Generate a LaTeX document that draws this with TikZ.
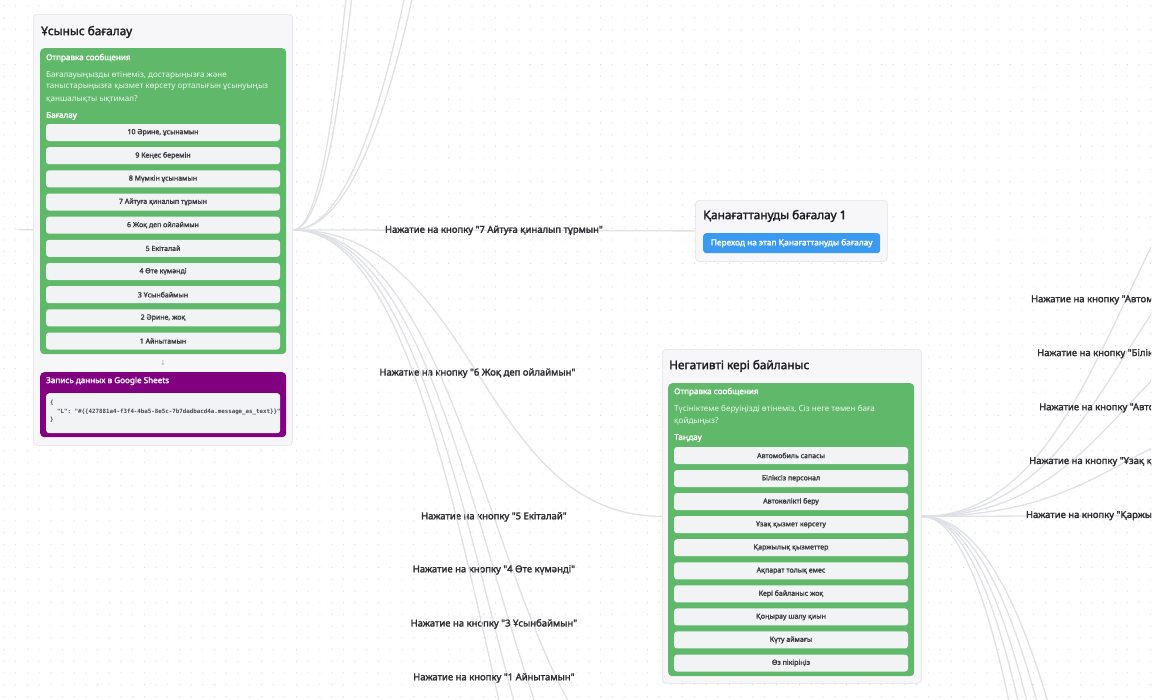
\documentclass[tikz,border=0pt]{standalone}
\usepackage{fontspec}
\setmainfont{Noto Sans}[Ligatures=TeXOff, BoldFont={Noto Sans}, BoldFeatures={FakeBold=2.2}]
\setmonofont{DejaVu Sans Mono}
\newfontfamily\symbolfont{DejaVu Sans}
\usetikzlibrary{calc}

\definecolor{canvasdot}{RGB}{208,210,216}
\definecolor{edgegray}{RGB}{224,225,230}
\definecolor{cardfill}{RGB}{247,247,249}
\definecolor{cardline}{RGB}{233,234,238}
\definecolor{msggreen}{RGB}{96,185,106}
\definecolor{btnfill}{RGB}{242,243,245}
\definecolor{btntext}{RGB}{60,62,68}
\definecolor{sheetpurple}{RGB}{128,0,128}
\definecolor{gotoblue}{RGB}{58,154,240}
\definecolor{titletext}{RGB}{30,30,34}
\definecolor{labeltext}{RGB}{45,45,50}
\definecolor{codetext}{RGB}{70,70,76}

\tikzset{
  card/.style={draw=cardline, fill=cardfill, rounded corners=4pt, line width=0.8pt,
    anchor=north west, inner sep=0pt},
  block/.style={rounded corners=4pt, anchor=north west, inner sep=0pt},
  cardtitle/.style={anchor=west, inner sep=0pt, font=\bfseries\fontsize{11.8}{13}\selectfont, text=titletext},
  blockhead/.style={anchor=west, inner sep=0pt, font=\bfseries\fontsize{8.1}{9}\selectfont, text=white},
  blocktext/.style={anchor=west, inner sep=0pt, font=\fontsize{8.1}{9}\selectfont, text=white!88!msggreen},
  choice/.style={fill=btnfill, rounded corners=3pt, minimum width=234pt, minimum height=17pt,
    inner sep=0pt, font=\bfseries\fontsize{7}{8}\selectfont, text=btntext},
  codeline/.style={anchor=west, inner sep=0pt, font=\ttfamily\bfseries\fontsize{5.8}{7}\selectfont, text=codetext},
  edge/.style={draw=edgegray, line width=1.3pt},
  edgelabel/.style={inner sep=0pt, font=\bfseries\fontsize{9.5}{11}\selectfont, text=labeltext},
  % bezier with horizontal tangents at both ends
  rf/.style={to path={let \p1=(\tikztostart), \p2=(\tikztotarget) in
     .. controls ({0.5*(\x1+\x2)},\y1) and ({0.5*(\x1+\x2)},\y2) .. (\tikztotarget) \tikztonodes}},
}

\begin{document}
\begin{tikzpicture}[x=1pt,y=-1pt]
\useasboundingbox (0,0) rectangle (1170,699);
\fill[white] (0,0) rectangle (1170,699);

% ---------- nodes ----------
\node[card, minimum width=259pt, minimum height=431pt] (rate) at (33,14) {};
\node[card, minimum width=192pt, minimum height=61pt] (sat) at (695,200) {};
\node[card, minimum width=259pt, minimum height=334pt] (neg) at (662,349) {};

% off-canvas targets
\coordinate (inlet) at (18,229.5);
\coordinate (up10) at (420,-450);
\coordinate (up9) at (440,-520);
\coordinate (up8) at (695,-1500);
\coordinate (up2) at (695,-1250);
\coordinate (t5) at (695,804);
\coordinate (t4) at (695,910);
\coordinate (t3) at (695,1018);
\coordinate (t1) at (695,1126);
\coordinate (n1) at (1330,83);
\coordinate (n2) at (1330,191);
\coordinate (n3) at (1330,299);
\coordinate (n4) at (1330,407);
\coordinate (n5) at (1330,515);
\coordinate (n6) at (1330,1600);
\coordinate (n7) at (1330,1850);
\coordinate (n8) at (1330,2150);
\coordinate (n9) at (1330,2500);
\coordinate (n10) at (1330,3000);

% ---------- canvas: dot grid, connectors, labels ----------
\begin{scope}
\clip (0,0) rectangle (1151,699);
\foreach \j in {0,...,59} {
  \fill[canvasdot] \foreach \i in {0,...,98} { (4+11.7*\i,6+11.7*\j) circle (0.55pt) };
}

\draw[edge] (inlet) -- (rate.west);
\draw[edge] (rate.east) to[rf] (up10);
\draw[edge] (rate.east) to[rf] (up9);
\draw[edge] (rate.east) to[rf] (up8);
\draw[edge] (rate.east) to[rf] (up2);
\draw[edge] (rate.east) to[rf] node[edgelabel, pos=0.5] {Нажатие на кнопку "7 Айтуға қиналып тұрмын"} (sat.west);
\draw[edge] (rate.east) to[rf] node[edgelabel, pos=0.5] {Нажатие на кнопку "6 Жоқ деп ойлаймын"} (neg.west);
\draw[edge] (rate.east) to[rf] node[edgelabel, pos=0.5] {Нажатие на кнопку "5 Екіталай"} (t5);
\draw[edge] (rate.east) to[rf] node[edgelabel, pos=0.5] {Нажатие на кнопку "4 Өте күмәнді"} (t4);
\draw[edge] (rate.east) to[rf] node[edgelabel, pos=0.5] {Нажатие на кнопку "3 Ұсынбаймын"} (t3);
\draw[edge] (rate.east) to[rf] node[edgelabel, pos=0.5] {Нажатие на кнопку "1 Айнытамын"} (t1);

\draw[edge] (neg.east) to[rf] node[edgelabel, pos=0.5] {Нажатие на кнопку "Автомобиль сапасы"} (n1);
\draw[edge] (neg.east) to[rf] node[edgelabel, pos=0.5] {Нажатие на кнопку "Біліксіз персонал"} (n2);
\draw[edge] (neg.east) to[rf] node[edgelabel, pos=0.5] {Нажатие на кнопку "Автокөлікті беру"} (n3);
\draw[edge] (neg.east) to[rf] node[edgelabel, pos=0.5] {Нажатие на кнопку "Ұзақ қызмет көрсету"} (n4);
\draw[edge] (neg.east) to[rf] node[edgelabel, pos=0.5] {Нажатие на кнопку "Қаржылық қызметтер"} (n5);
\foreach \tgt in {n6,n7,n8,n9,n10} \draw[edge] (neg.east) to[rf] (\tgt);
\end{scope}

% ---------- cards on top of the connectors ----------
\node[card, minimum width=259pt, minimum height=431pt] at (33,14) {};
\node[card, minimum width=192pt, minimum height=61pt] at (695,200) {};
\node[card, minimum width=259pt, minimum height=334pt] at (662,349) {};

% Ұсыныс бағалау
\node[cardtitle] (rate-title) at (41,32) {Ұсыныс бағалау};
\node[block, fill=msggreen, minimum width=246pt, minimum height=306pt] (rate-msg) at (40,48) {};
\node[blockhead] at (46,58) {Отправка сообщения};
\node[blocktext] at (46,75) {Бағалауыңызды өтінеміз, достарыңызға және};
\node[blocktext] at (46,87) {таныстарыңызға қызмет көрсету орталығын ұсынуыңыз};
\node[blocktext] at (46,99) {қаншалықты ықтимал?};
\node[blockhead] at (46,116) {Бағалау};
\foreach \t [count=\k from 0] in {{10 Әрине, ұсынамын},{9 Кеңес беремін},{8 Мүмкін ұсынамын},
    {7 Айтуға қиналып тұрмын},{6 Жоқ деп ойлаймын},{5 Екіталай},{4 Өте күмәнді},
    {3 Ұсынбаймын},{2 Әрине, жоқ},{1 Айнытамын}}
  \node[choice] (rate-b\k) at (163,132.5+23.17*\k) {\t};
\node[inner sep=0pt, text=black!35, font=\symbolfont\fontsize{7}{8}\selectfont] (rate-step) at (163,363) {↓};
\node[block, fill=sheetpurple, minimum width=246pt, minimum height=65pt] (rate-sheet) at (40,372) {};
\node[blockhead] at (46,381) {Запись данных в Google Sheets};
\node[block, fill=btnfill, rounded corners=3pt, minimum width=234pt, minimum height=40pt] (rate-code) at (46,393) {};
\node[codeline] at (50,403) {\{};
\node[codeline] at (50,411.5) {\ \ "L": "\#\{\{427881a4-f3f4-4ba5-8e5c-7b7dadbacd4a.message\_as\_text\}\}"};
\node[codeline] at (50,420) {\}};

% Қанағаттануды бағалау 1
\node[cardtitle] (sat-title) at (703,216) {Қанағаттануды бағалау 1};
\node[block, fill=gotoblue, rounded corners=3pt, minimum width=177pt, minimum height=20pt] (sat-go) at (703,233) {};
\node[inner sep=0pt, font=\bfseries\fontsize{8.3}{9}\selectfont, text=white] at (sat-go.center) {Переход на этап Қанағаттануды бағалау};

% Негативті кері байланыс
\node[cardtitle] (neg-title) at (669,366) {Негативті кері байланыс};
\node[block, fill=msggreen, minimum width=246pt, minimum height=293pt] (neg-msg) at (668,383) {};
\node[blockhead] at (674,392) {Отправка сообщения};
\node[blocktext] at (674,409) {Түсініктеме беруіңізді өтінеміз, Сіз неге төмен баға};
\node[blocktext] at (674,421) {қойдыңыз?};
\node[blockhead] at (674,438) {Таңдау};
\foreach \t [count=\k from 0] in {{Автомобиль сапасы},{Біліксіз персонал},{Автокөлікті беру},
    {Ұзақ қызмет көрсету},{Қаржылық қызметтер},{Ақпарат толық емес},{Кері байланыс жоқ},
    {Қоңырау шалу қиын},{Күту аймағы},{Өз пікіріңіз}}
  \node[choice] (neg-b\k) at (791,455.5+23.06*\k) {\t};
\end{tikzpicture}
\end{document}
